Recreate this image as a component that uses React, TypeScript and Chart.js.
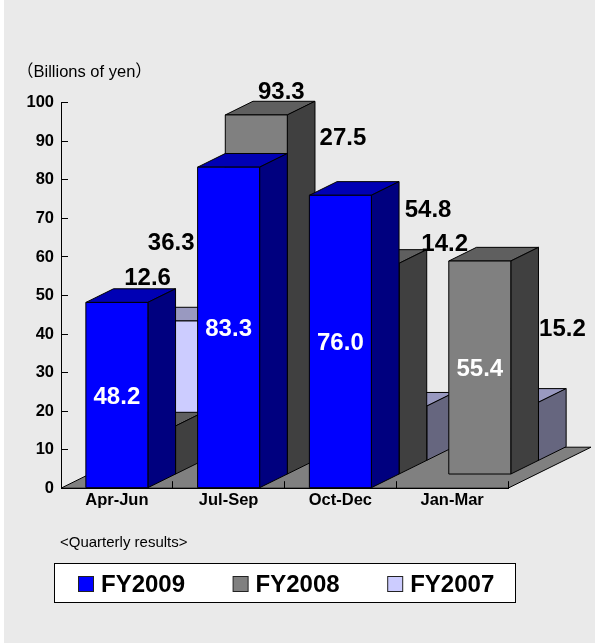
import React, { useEffect, useRef } from "react";
import { Chart, registerables } from "chart.js";

Chart.register(...registerables);

const categories = ["Apr-Jun", "Jul-Sep", "Oct-Dec", "Jan-Mar"];
const fy2009 = [48.2, 83.3, 76.0, null];
const fy2008 = [12.6, 93.3, 54.8, 55.4];
const fy2007 = [36.3, 27.5, 14.2, 15.2];
const yTicks = [0, 10, 20, 30, 40, 50, 60, 70, 80, 90, 100];

const FONT = '"Liberation Sans", Arial, sans-serif';
const PANEL = "#EAEAEA";
const DEPTH_X = 27.67;
const DEPTH_Y = 13.67;

// faces per series: front, top, side
const faces = [
  { front: "#0000FF", top: "#0000B4", side: "#00007F" },
  { front: "#808080", top: "#5F5F5F", side: "#404040" },
  { front: "#CCCCFF", top: "#9999C0", side: "#66667F" },
];

// Hand-placed label offsets from the front-top centre of each bar [series][category]
const labelNudges: Record<string, [number, number]> = {
  "1-0": [3, -150],
  "2-0": [-1, -80],
  "1-1": [25, -25],
  "2-1": [59, -219],
  "1-2": [60, -55],
  "2-2": [49, -164],
  "2-3": [55, -75],
};

const scene3d = {
  id: "scene3d",
  beforeDraw(chart: any) {
    const { ctx, width, height, chartArea: a } = chart;
    ctx.save();
    ctx.fillStyle = "#FFFFFF";
    ctx.fillRect(0, 0, width, height);
    ctx.fillStyle = PANEL;
    ctx.fillRect(4, 0, width - 4, height);
    // floor
    const dx = DEPTH_X * 3;
    const dy = DEPTH_Y * 3;
    ctx.beginPath();
    ctx.moveTo(a.left, a.bottom);
    ctx.lineTo(a.right, a.bottom);
    ctx.lineTo(a.right + dx, a.bottom - dy);
    ctx.lineTo(a.left + dx, a.bottom - dy);
    ctx.closePath();
    ctx.fillStyle = "#808080";
    ctx.fill();
    ctx.strokeStyle = "#000";
    ctx.lineWidth = 1;
    ctx.stroke();
    ctx.restore();
  },
  beforeDatasetsDraw(chart: any) {
    const { ctx } = chart;
    const poly = (pts: number[][], fill: string) => {
      ctx.beginPath();
      pts.forEach((p, i) => (i ? ctx.lineTo(p[0], p[1]) : ctx.moveTo(p[0], p[1])));
      ctx.closePath();
      ctx.fillStyle = fill;
      ctx.fill();
      ctx.stroke();
    };
    ctx.save();
    ctx.strokeStyle = "#000";
    ctx.lineWidth = 1;
    ctx.lineJoin = "miter";
    for (let s = chart.data.datasets.length - 1; s >= 0; s--) {
      const meta = chart.getDatasetMeta(s);
      meta.data.forEach((bar: any, i: number) => {
        if (chart.data.datasets[s].data[i] == null) return;
        const ox = DEPTH_X * s;
        const oy = DEPTH_Y * s;
        const l = bar.x - bar.width / 2 + ox;
        const r = bar.x + bar.width / 2 + ox;
        const t = bar.y - oy;
        const b = bar.base - oy;
        poly([[l, t], [r, t], [r + DEPTH_X, t - DEPTH_Y], [l + DEPTH_X, t - DEPTH_Y]], faces[s].top);
        poly([[r, t], [r + DEPTH_X, t - DEPTH_Y], [r + DEPTH_X, b - DEPTH_Y], [r, b]], faces[s].side);
        poly([[l, t], [r, t], [r, b], [l, b]], faces[s].front);
      });
    }
    ctx.restore();
    return false;
  },
  afterDraw(chart: any) {
    const { ctx } = chart;
    ctx.save();
    ctx.textBaseline = "middle";
    ctx.textAlign = "center";
    // value labels
    chart.data.datasets.forEach((ds: any, s: number) => {
      chart.getDatasetMeta(s).data.forEach((bar: any, i: number) => {
        const v = ds.data[i];
        if (v == null) return;
        const cx = bar.x + DEPTH_X * s;
        const top = bar.y - DEPTH_Y * s;
        const base = bar.base - DEPTH_Y * s;
        const nudge = labelNudges[`${s}-${i}`];
        ctx.font = `bold 24px ${FONT}`;
        if (nudge) {
          ctx.fillStyle = "#000";
          ctx.fillText(v.toFixed(1), cx + nudge[0], top + nudge[1] + 2);
        } else {
          ctx.fillStyle = "#FFF";
          ctx.fillText(v.toFixed(1), cx, (top + base) / 2 + 2);
        }
      });
    });
    // captions
    ctx.textAlign = "left";
    ctx.fillStyle = "#000";
    ctx.font = `16.5px ${FONT}, "Noto Sans CJK JP"`;
    ctx.fillText("（Billions of yen）", 17, 72);
    ctx.font = `15px ${FONT}`;
    ctx.fillText("<Quarterly results>", 60, 543);
    // legend
    ctx.fillStyle = "#FFF";
    ctx.strokeStyle = "#000";
    ctx.lineWidth = 1;
    ctx.fillRect(54.5, 563.5, 461, 39);
    ctx.strokeRect(54.5, 563.5, 461, 39);
    chart.data.datasets.forEach((ds: any, s: number) => {
      const x = 78.5 + 154.6 * s;
      ctx.fillStyle = faces[s].front;
      ctx.strokeStyle = "#222";
      ctx.fillRect(x, 576.5, 15, 15);
      ctx.strokeRect(x, 576.5, 15, 15);
      ctx.fillStyle = "#000";
      ctx.font = `bold 24px ${FONT}`;
      ctx.fillText(ds.label, x + 22.5, 585);
    });
    ctx.restore();
  },
};

export default function App() {
  const ref = useRef<HTMLCanvasElement | null>(null);
  useEffect(() => {
    document.body.style.margin = "0";
    const chart = new Chart(ref.current as HTMLCanvasElement, {
      type: "bar",
      data: {
        labels: categories,
        datasets: [
          { label: "FY2009", data: fy2009 },
          { label: "FY2008", data: fy2008 },
          { label: "FY2007", data: fy2007 },
        ],
      },
      plugins: [scene3d],
      options: {
        responsive: false,
        animation: false,
        layout: { padding: { left: 0, right: 87, top: 102.8, bottom: 124.8 } },
        datasets: { bar: { grouped: false, categoryPercentage: 1, barPercentage: 0.555 } },
        plugins: { legend: { display: false }, title: { display: false }, tooltip: { enabled: false } },
        scales: {
          x: {
            afterFit: (s: any) => { s.height = 30; },
            border: { color: "#000", width: 1 },
            grid: { color: "#000", drawOnChartArea: false, tickLength: -7 },
            ticks: { color: "#000", padding: 9, maxRotation: 0, font: { family: FONT, size: 16.5, weight: "bold" } },
          },
          y: {
            min: 0,
            max: 100,
            afterFit: (s: any) => { s.width = 61; },
            afterBuildTicks: (s: any) => { s.ticks = yTicks.map((value) => ({ value })); },
            border: { color: "#000", width: 1 },
            grid: { color: "#000", drawOnChartArea: false, tickLength: -7 },
            ticks: { color: "#000", padding: 14, font: { family: FONT, size: 16.5, weight: "bold" } },
          },
        },
      },
    } as any);
    return () => chart.destroy();
  }, []);
  return <canvas ref={ref} width={595} height={643} style={{ display: "block" }} />;
}
